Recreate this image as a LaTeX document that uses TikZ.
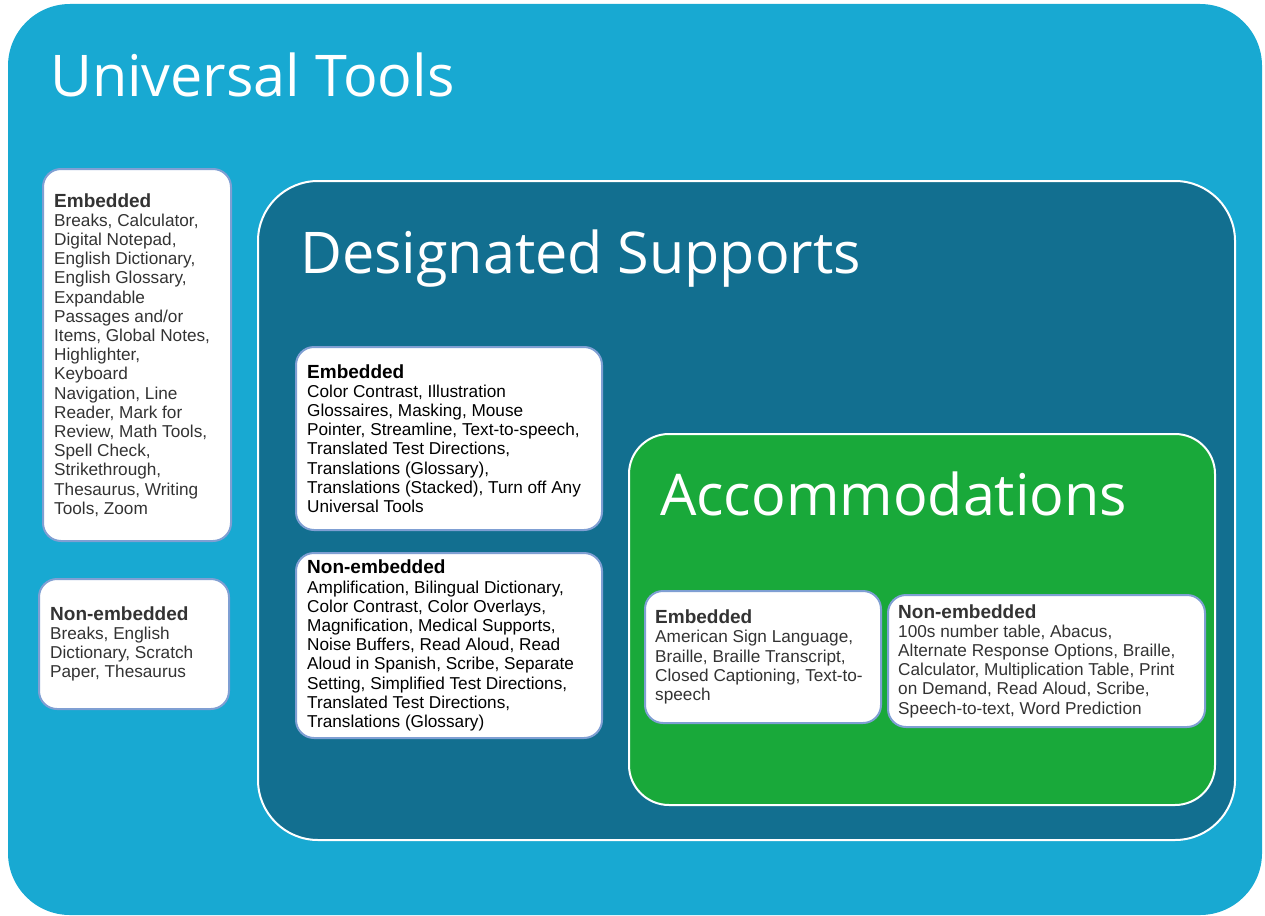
\documentclass[tikz,border=0pt]{standalone}
\usepackage{fontspec}
\setmainfont{Liberation Sans}
\newfontfamily\titlefont{Open Sans}
\definecolor{outerblue}{HTML}{18A9D2}
\definecolor{dsteal}{HTML}{126F90}
\definecolor{accgreen}{HTML}{19A93A}
\definecolor{boxborder}{HTML}{7F9FD3}
\definecolor{bodygray}{HTML}{333333}
\newcommand{\hd}[1]{{\fontsize{19}{19.2}\selectfont\bfseries #1}}
\begin{document}
\begin{tikzpicture}[x=1pt,y=-1pt,
  container/.style={anchor=north west, inner sep=0pt, outer sep=0pt},
  listbox/.style={anchor=north west, fill=white, draw=boxborder, line width=2pt,
    rounded corners=18pt, inner sep=0pt},
  listtext/.style={anchor=west, inner sep=0pt, align=left,
    font=\fontsize{17.2}{19.2}\selectfont},
  titletext/.style={anchor=base west, text=white, inner sep=0pt,
    font=\titlefont\fontsize{57.5}{60}\selectfont}]
\useasboundingbox (0,0) rectangle (1265,915);
% outer container
\node[container, fill=outerblue, rounded corners=62pt, minimum width=1254pt, minimum height=911pt] (ut) at (8,4) {};
\node[titletext] (uttitle) at (50,97) {Universal Tools};
% designated supports container
\node[container, fill=dsteal, draw=white, line width=2pt, rounded corners=60pt, minimum width=977pt, minimum height=659pt] (ds) at (258,181) {};
\node[titletext] (dstitle) at (300,273) {Designated Supports};
% accommodations container
\node[container, fill=accgreen, draw=white, line width=2pt, rounded corners=40pt, minimum width=586pt, minimum height=371pt] (acc) at (629,434) {};
\node[titletext] (acctitle) at (660,515) {Accommodations};
% Universal tools boxes
\node[listbox, minimum width=188pt, minimum height=372pt] (utemb) at (42,168) {};
\node[listtext, text=bodygray] (utembtxt) at ([xshift=12pt]utemb.west) {%
\hd{Embedded}\\Breaks, Calculator,\\Digital Notepad,\\English Dictionary,\\English Glossary,\\Expandable\\Passages and/or\\Items, Global Notes,\\Highlighter,\\Keyboard\\Navigation, Line\\Reader, Mark for\\Review, Math Tools,\\Spell Check,\\Strikethrough,\\Thesaurus, Writing\\Tools, Zoom};
\node[listbox, minimum width=190pt, minimum height=130pt] (utnon) at (38,578) {};
\node[listtext, text=bodygray] (utnontxt) at ([xshift=12pt]utnon.west) {%
\hd{Non-embedded}\\Breaks, English\\Dictionary, Scratch\\Paper, Thesaurus};
% Designated supports boxes
\node[listbox, minimum width=306pt, minimum height=183pt] (dsemb) at (295,346) {};
\node[listtext, text=black] (dsembtxt) at ([xshift=12pt]dsemb.west) {%
\hd{Embedded}\\Color Contrast, Illustration\\Glossaires, Masking, Mouse\\Pointer, Streamline, Text-to-speech,\\Translated Test Directions,\\Translations (Glossary),\\Translations (Stacked), Turn off Any\\Universal Tools};
\node[listbox, minimum width=306pt, minimum height=185pt] (dsnon) at (295,552) {};
\node[listtext, text=black] (dsnontxt) at ([xshift=12pt]dsnon.west) {%
\hd{Non-embedded}\\Amplification, Bilingual Dictionary,\\Color Contrast, Color Overlays,\\Magnification, Medical Supports,\\Noise Buffers, Read Aloud, Read\\Aloud in Spanish, Scribe, Separate\\Setting, Simplified Test Directions,\\Translated Test Directions,\\Translations (Glossary)};
% Accommodations boxes
\node[listbox, minimum width=236pt, minimum height=132pt] (accemb) at (644,590) {};
\node[listtext, text=bodygray] (accembtxt) at ([xshift=11pt]accemb.west) {%
\hd{Embedded}\\American Sign Language,\\Braille, Braille Transcript,\\Closed Captioning, Text-to-\\speech};
\node[listbox, minimum width=317pt, minimum height=132pt] (accnon) at (887,594) {};
\node[listtext, text=bodygray] (accnontxt) at ([xshift=11pt]accnon.west) {%
\hd{Non-embedded}\\100s number table, Abacus,\\Alternate Response Options, Braille,\\Calculator, Multiplication Table, Print\\on Demand, Read Aloud, Scribe,\\Speech-to-text, Word Prediction};
\end{tikzpicture}
\end{document}
